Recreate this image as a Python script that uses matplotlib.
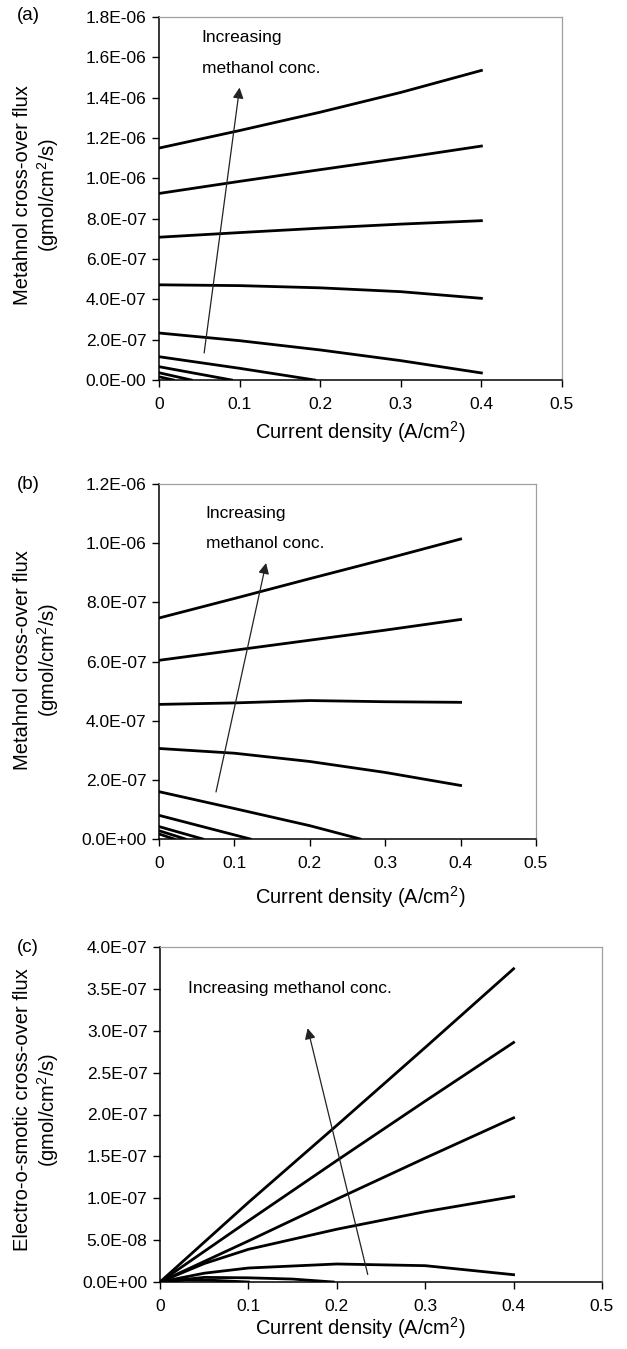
"""
Methanol / electro-osmotic cross-over flux vs. current density, panels (a)-(c).
Output: out.png (627x1349)
"""
import matplotlib
matplotlib.use("Agg")
import matplotlib.pyplot as plt

plt.rcParams["font.family"] = ["Liberation Sans", "DejaVu Sans"]
plt.rcParams["mathtext.fontset"] = "custom"
plt.rcParams["mathtext.rm"] = "Liberation Sans"
plt.rcParams["mathtext.it"] = "Liberation Sans"

W, H = 627, 1349
DPI = 100

# ─────────────────────────────────────────────────────────────────────────────
# data (flux values)
# ─────────────────────────────────────────────────────────────────────────────
X_FULL = [0.0, 0.1, 0.2, 0.3, 0.4]

# (a) units of 1e-6
A_C1 = [1.15, 1.237, 1.328, 1.426, 1.535]
A_C2 = [0.925, 0.985, 1.043, 1.10, 1.16]
A_C3 = [0.708, 0.731, 0.753, 0.773, 0.79]
A_C4 = [0.472, 0.468, 0.457, 0.438, 0.405]
A_C5 = [0.233, 0.195, 0.149, 0.096, 0.035]
A_X6, A_C6 = [0.0, 0.1, 0.193], [0.1155, 0.058, 0.0]
A_X7, A_C7 = [0.0, 0.09], [0.066, 0.0]
A_X8, A_C8 = [0.0, 0.04], [0.036, 0.0]
A_X9, A_C9 = [0.0, 0.018], [0.016, 0.0]

# (b) units of 1e-7
B_C1 = [7.47, 8.13, 8.80, 9.46, 10.14]
B_C2 = [6.04, 6.38, 6.72, 7.06, 7.42]
B_C3 = [4.55, 4.60, 4.68, 4.64, 4.62]
B_C4 = [3.06, 2.90, 2.62, 2.25, 1.81]
B_X5, B_C5 = [0.0, 0.1, 0.2, 0.267], [1.60, 1.03, 0.45, 0.0]
B_X6, B_C6 = [0.0, 0.121], [0.80, 0.0]
B_X7, B_C7 = [0.0, 0.058], [0.42, 0.0]
B_X8, B_C8 = [0.0, 0.035], [0.28, 0.0]
B_X9, B_C9 = [0.0, 0.02], [0.17, 0.0]

# (c) units of 1e-7
C_C1 = [0.0, 0.95, 1.87, 2.80, 3.74]
C_C2 = [0.0, 0.73, 1.45, 2.16, 2.86]
C_C3 = [0.0, 0.49, 0.99, 1.48, 1.96]
C_X4 = [0.0, 0.05, 0.1, 0.2, 0.3, 0.4]
C_C4 = [0.0, 0.22, 0.39, 0.63, 0.84, 1.02]
C_X5 = [0.0, 0.05, 0.1, 0.2, 0.3, 0.4]
C_C5 = [0.0, 0.105, 0.167, 0.215, 0.195, 0.087]
C_X6, C_C6 = [0.0, 0.05, 0.1, 0.15, 0.196], [0.0, 0.055, 0.05, 0.035, 0.0]
C_X7, C_C7 = [0.0, 0.03, 0.06, 0.1], [0.0, 0.025, 0.02, 0.0]

X_TICKS = [0, 0.1, 0.2, 0.3, 0.4, 0.5]
X_TICKLABELS = ["0", "0.1", "0.2", "0.3", "0.4", "0.5"]

A_YTICKS = [0, 0.2, 0.4, 0.6, 0.8, 1.0, 1.2, 1.4, 1.6, 1.8]
A_YTICKLABELS = ["0.0E-00", "2.0E-07", "4.0E-07", "6.0E-07", "8.0E-07",
                 "1.0E-06", "1.2E-06", "1.4E-06", "1.6E-06", "1.8E-06"]
B_YTICKS = [0, 2, 4, 6, 8, 10, 12]
B_YTICKLABELS = ["0.0E+00", "2.0E-07", "4.0E-07", "6.0E-07", "8.0E-07",
                 "1.0E-06", "1.2E-06"]
C_YTICKS = [0, 0.5, 1.0, 1.5, 2.0, 2.5, 3.0, 3.5, 4.0]
C_YTICKLABELS = ["0.0E+00", "5.0E-08", "1.0E-07", "1.5E-07", "2.0E-07",
                 "2.5E-07", "3.0E-07", "3.5E-07", "4.0E-07"]

XLABEL = "Current density (A/cm$^{2}$)"
TICK_FS = 12.5
LABEL_FS = 14.5
NOTE_FS = 12.5
LINE_W = 2.0


def px_axes(fig, left, top, right, bottom):
    """axes from pixel box (top-left origin)."""
    return fig.add_axes([left / W, (H - bottom) / H,
                         (right - left) / W, (bottom - top) / H])


def style_axes(ax, ymax, yticks, yticklabels):
    ax.set_xlim(0, 0.5)
    ax.set_ylim(0, ymax)
    ax.set_xticks(X_TICKS)
    ax.set_xticklabels(X_TICKLABELS)
    ax.set_yticks(yticks)
    ax.set_yticklabels(yticklabels)
    ax.tick_params(direction="out", length=5, width=1, labelsize=TICK_FS,
                   top=False, right=False, pad=4)
    ax.tick_params(axis="x", pad=7)
    for s in ("top", "right"):
        ax.spines[s].set_color("#a0a0a0")
        ax.spines[s].set_linewidth(0.9)
    for s in ("left", "bottom"):
        ax.spines[s].set_color("black")
        ax.spines[s].set_linewidth(1.1)


def arrow(ax, tail, head):
    ax.annotate("", xy=head, xytext=tail,
                arrowprops=dict(arrowstyle="-|>", color="#222222", lw=0.9,
                                mutation_scale=16, shrinkA=0, shrinkB=0))


def ylab(fig, x, y, text):
    fig.text(x / W, 1 - y / H, text, rotation=90, ha="center", va="center",
             fontsize=LABEL_FS, linespacing=1.15)


def xlab(fig, x, y):
    fig.text(x / W, 1 - y / H, XLABEL, ha="center", va="center",
             fontsize=LABEL_FS)


def main():
    fig = plt.figure(figsize=(W / DPI, H / DPI), dpi=DPI)

    # ── (a) ──
    ax = px_axes(fig, 159, 17, 562, 380)
    for y in (A_C1, A_C2, A_C3, A_C4, A_C5):
        ax.plot(X_FULL, y, color="black", lw=LINE_W)
    for x, y in ((A_X6, A_C6), (A_X7, A_C7), (A_X8, A_C8), (A_X9, A_C9)):
        ax.plot(x, y, color="black", lw=LINE_W)
    style_axes(ax, 1.8, A_YTICKS, A_YTICKLABELS)
    arrow(ax, (0.056, 0.134), (0.100, 1.45))
    ax.text(0.053, 1.70, "Increasing", fontsize=NOTE_FS, va="center")
    ax.text(0.053, 1.545, "methanol conc.", fontsize=NOTE_FS, va="center")
    fig.text(28 / W, 1 - 15 / H, "(a)", fontsize=LABEL_FS - 1,
             ha="center", va="center")
    ylab(fig, 37, 195, "Metahnol cross-over flux\n(gmol/cm$^{2}$/s)")
    xlab(fig, 360, 432)

    # ── (b) ──
    ax = px_axes(fig, 159, 484, 536, 839)
    for y in (B_C1, B_C2, B_C3, B_C4):
        ax.plot(X_FULL, y, color="black", lw=LINE_W)
    for x, y in ((B_X5, B_C5), (B_X6, B_C6), (B_X7, B_C7), (B_X8, B_C8),
                 (B_X9, B_C9)):
        ax.plot(x, y, color="black", lw=LINE_W)
    style_axes(ax, 12, B_YTICKS, B_YTICKLABELS)
    arrow(ax, (0.0756, 1.59), (0.142, 9.33))
    ax.text(0.062, 11.0, "Increasing", fontsize=NOTE_FS, va="center")
    ax.text(0.062, 10.0, "methanol conc.", fontsize=NOTE_FS, va="center")
    fig.text(28 / W, 1 - 485 / H, "(b)", fontsize=LABEL_FS - 1,
             ha="center", va="center")
    ylab(fig, 37, 660, "Metahnol cross-over flux\n(gmol/cm$^{2}$/s)")
    xlab(fig, 360, 897)

    # ── (c) ──
    ax = px_axes(fig, 160, 947, 602, 1282)
    for y in (C_C1, C_C2, C_C3):
        ax.plot(X_FULL, y, color="black", lw=LINE_W)
    for x, y in ((C_X4, C_C4), (C_X5, C_C5), (C_X6, C_C6), (C_X7, C_C7)):
        ax.plot(x, y, color="black", lw=LINE_W)
    style_axes(ax, 4.0, C_YTICKS, C_YTICKLABELS)
    arrow(ax, (0.235, 0.09), (0.167, 3.03))
    ax.text(0.032, 3.5, "Increasing methanol conc.", fontsize=NOTE_FS,
            va="center")
    fig.text(28 / W, 1 - 947 / H, "(c)", fontsize=LABEL_FS - 1,
             ha="center", va="center")
    ylab(fig, 37, 1110, "Electro-o-smotic cross-over flux\n(gmol/cm$^{2}$/s)")
    xlab(fig, 360, 1328)

    fig.savefig("out.png", dpi=DPI, facecolor="white")
    plt.close(fig)


if __name__ == "__main__":
    main()
